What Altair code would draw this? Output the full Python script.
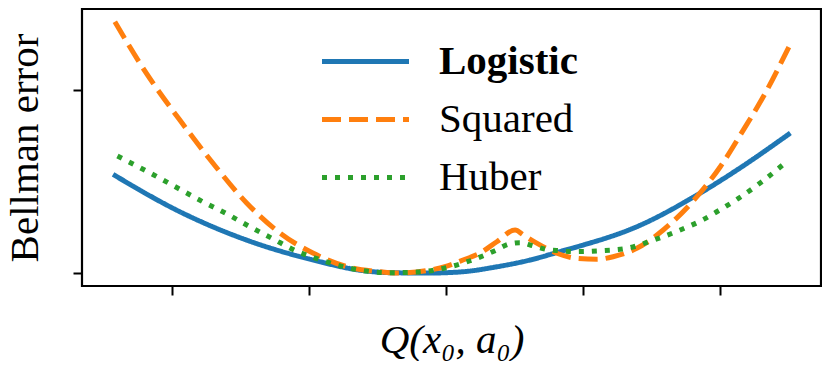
import altair as alt
import pandas as pd

series_names = ["Logistic", "Squared", "Huber"]
series_colors = ["#1f77b4", "#ff7f0e", "#2ca02c"]

logistic_x = [-2.433, -1.945, -1.457, -0.970, -0.607, -0.361, -0.117, 0.124, 0.371, 0.614, 0.856, 0.980, 1.394, 1.833, 2.126, 2.516]
logistic_y = [0.539, 0.335, 0.180, 0.071, 0.013, 0.001, 0.000, 0.007, 0.034, 0.071, 0.122, 0.148, 0.253, 0.426, 0.563, 0.765]

squared_x = [-2.42, -2.189, -1.945, -1.704, -1.457, -1.214, -0.973, -0.726, -0.483, -0.361, -0.117, 0.005, 0.124, 0.249, 0.371, 0.505, 0.565, 0.663, 0.810, 0.956, 1.102, 1.221, 1.394, 1.587, 1.833, 2.004, 2.172, 2.318, 2.505]
squared_y = [1.373, 1.091, 0.836, 0.601, 0.383, 0.219, 0.109, 0.035, 0.007, 0.000, 0.016, 0.038, 0.071, 0.109, 0.171, 0.235, 0.208, 0.163, 0.108, 0.080, 0.075, 0.089, 0.135, 0.235, 0.417, 0.581, 0.781, 0.963, 1.235]

huber_x = [-2.401, -2.135, -1.958, -1.786, -1.609, -1.433, -1.263, -1.092, -0.897, -0.799, -0.605, -0.410, -0.214, -0.020, 0.176, 0.358, 0.456, 0.541, 0.638, 0.736, 0.834, 0.943, 1.126, 1.321, 1.516, 1.711, 1.882, 1.972, 2.137, 2.303, 2.475]
huber_y = [0.639, 0.536, 0.463, 0.393, 0.326, 0.253, 0.186, 0.120, 0.067, 0.044, 0.013, 0.002, 0.005, 0.025, 0.067, 0.122, 0.157, 0.166, 0.148, 0.129, 0.122, 0.117, 0.122, 0.135, 0.180, 0.235, 0.293, 0.332, 0.408, 0.496, 0.600]

x_ticks = [-2, -1, 0, 1, 2]
y_ticks = [0, 1]

rows = []
for name, xs, ys in [("Logistic", logistic_x, logistic_y),
                     ("Squared", squared_x, squared_y),
                     ("Huber", huber_x, huber_y)]:
    for i, (xv, yv) in enumerate(zip(xs, ys)):
        rows.append({"loss": name, "q": xv, "err": yv, "idx": i})
df = pd.DataFrame(rows)

legend = alt.Legend(
    title=None, orient="none", legendX=263, legendY=32,
    symbolType="M-3,0H3", symbolSize=841, symbolStrokeWidth=5,
    labelFont="Liberation Serif", labelFontSize=41, labelColor="black",
    labelFontWeight=alt.ExprRef(expr="datum.label == 'Logistic' ? 'bold' : 'normal'"),
    labelOffset=53, labelLimit=0, rowPadding=16,
)

chart = alt.Chart(df).mark_line(strokeWidth=5, interpolate="monotone", strokeCap="butt").encode(
    x=alt.X("q:Q", scale=alt.Scale(domain=[-2.66, 2.74], nice=False, zero=False),
            axis=alt.Axis(values=x_ticks, labels=False, tickSize=9, tickWidth=2, tickColor="black",
                          domain=False, grid=False, title="Q(x₀, a₀)",
                          titleFont="Liberation Serif", titleFontStyle="italic", titleFontSize=41,
                          titleFontWeight="normal", titleColor="black",
                          titleBaseline="alphabetic", titleY=66)),
    y=alt.Y("err:Q", scale=alt.Scale(domain=[-0.071, 1.443], nice=False, zero=False),
            axis=alt.Axis(values=y_ticks, labels=False, tickSize=9, tickWidth=2, tickColor="black",
                          domain=False, grid=False, title="Bellman error",
                          titleFont="Liberation Serif", titleFontSize=41, titleFontWeight="normal",
                          titleColor="black", titleBaseline="alphabetic", titleX=-45)),
    color=alt.Color("loss:N", scale=alt.Scale(domain=series_names, range=series_colors), legend=legend),
    strokeDash=alt.StrokeDash("loss:N", scale=alt.Scale(domain=series_names, range=[[1, 0], [19, 8], [5, 8]]), legend=legend),
    order="idx:Q",
).properties(
    width=739, height=277,
    autosize=alt.AutoSizeParams(type="none"),
    padding={"left": 74, "top": 1, "right": 1, "bottom": 75},
).configure_view(stroke="black", strokeWidth=2.2)

chart.save("out.html", embed_options={"renderer": "svg", "actions": False})
